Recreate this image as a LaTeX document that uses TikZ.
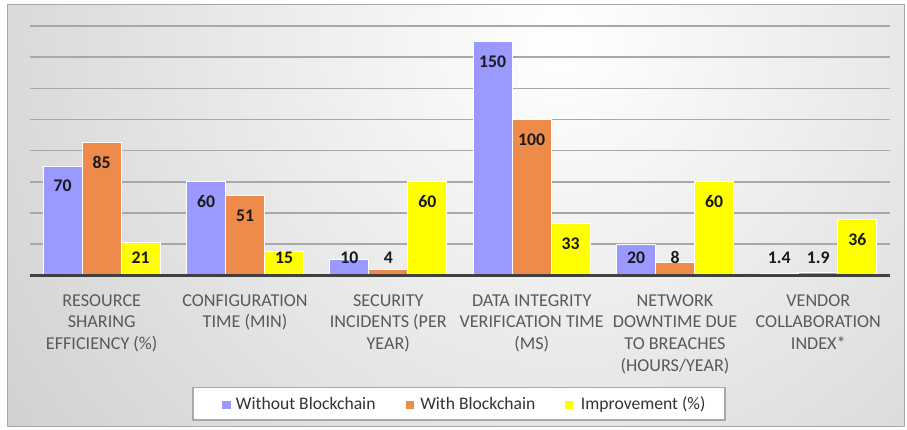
\documentclass[tikz,border=0pt]{standalone}
\usepackage{fontspec}
\setmainfont{Carlito}
\definecolor{nochain}{HTML}{9999FF}
\definecolor{withchain}{HTML}{EE8B4B}
\definecolor{improve}{HTML}{FFFF00}
\definecolor{bggray}{HTML}{C4C4C4}
\definecolor{gridgray}{HTML}{A8A8A8}
\definecolor{axisgray}{HTML}{404040}
\definecolor{catgray}{HTML}{595959}
\tikzset{
  bar/.style={draw=white, line width=0.75pt},
  val/.style={inner sep=0, font=\fontsize{13.3}{15}\selectfont\bfseries, text=black!90},
  cat/.style={anchor=north, inner sep=0, align=center, text=catgray, font=\fontsize{13.6}{16.3}\selectfont},
  gridline/.style={gridgray, line width=1.1pt},
  keybox/.style={inner sep=0, minimum size=6.2pt},
  keytext/.style={anchor=base west, inner sep=0, font=\fontsize{13.2}{15}\selectfont, text=black!80}
}
\begin{document}
\begin{tikzpicture}[x=0.75pt, y=-0.75pt]
	\useasboundingbox (0,0) rectangle (907,429);
	\fill[white] (0,0) rectangle (907,429);
	\begin{scope}
		\clip (7,4) rectangle (904,426);
		\shade[inner color=white, outer color=bggray] (560,40) circle (650pt);
	\end{scope}
	\draw[bggray!85!black, line width=0.6pt] (7,4) rectangle (904,426);
	
	% grid
	\draw[gridline] (30,244.1) -- (890,244.1);
	\draw[gridline] (30,213.0) -- (890,213.0);
	\draw[gridline] (30,181.8) -- (890,181.8);
	\draw[gridline] (30,150.6) -- (890,150.6);
	\draw[gridline] (30,119.5) -- (890,119.5);
	\draw[gridline] (30,88.3) -- (890,88.3);
	\draw[gridline] (30,57.1) -- (890,57.1);
	\draw[gridline] (30,26.0) -- (890,26.0);
	
	% bars
	\draw[bar, fill=nochain] (43.2,275.3) rectangle (82.2,166.2);
	\draw[bar, fill=withchain] (82.2,275.3) rectangle (121.2,142.9);
	\draw[bar, fill=improve] (121.2,275.3) rectangle (160.2,242.6);
	\draw[bar, fill=nochain] (186.5,275.3) rectangle (225.5,181.8);
	\draw[bar, fill=withchain] (225.5,275.3) rectangle (264.5,195.8);
	\draw[bar, fill=improve] (264.5,275.3) rectangle (303.5,251.9);
	\draw[bar, fill=nochain] (329.8,275.3) rectangle (368.8,259.7);
	\draw[bar, fill=withchain] (368.8,275.3) rectangle (407.8,269.1);
	\draw[bar, fill=improve] (407.8,275.3) rectangle (446.8,181.8);
	\draw[bar, fill=nochain] (473.2,275.3) rectangle (512.2,41.6);
	\draw[bar, fill=withchain] (512.2,275.3) rectangle (551.2,119.5);
	\draw[bar, fill=improve] (551.2,275.3) rectangle (590.2,223.9);
	\draw[bar, fill=nochain] (616.5,275.3) rectangle (655.5,244.1);
	\draw[bar, fill=withchain] (655.5,275.3) rectangle (694.5,262.8);
	\draw[bar, fill=improve] (694.5,275.3) rectangle (733.5,181.8);
	\draw[bar, fill=nochain] (759.8,275.3) rectangle (798.8,273.1);
	\draw[bar, fill=withchain] (798.8,275.3) rectangle (837.8,272.3);
	\draw[bar, fill=improve] (837.8,275.3) rectangle (876.8,219.2);
	
	% axis
	\draw[axisgray, line width=2.2pt] (30,275.3) -- (890,275.3);
	
	% values
	\node[val] (a1) at (62.7,186.2) {70};
	\node[val] (b1) at (101.7,162.9) {85};
	\node[val] (c1) at (140.7,257.3) {21};
	\node[val] (a2) at (206.0,201.8) {60};
	\node[val] (b2) at (245.0,215.8) {51};
	\node[val] (c2) at (284.0,257.3) {15};
	\node[val] (a3) at (349.3,257.3) {10};
	\node[val] (b3) at (388.3,257.3) {4};
	\node[val] (c3) at (427.3,201.8) {60};
	\node[val] (a4) at (492.7,61.6) {150};
	\node[val] (b4) at (531.7,139.5) {100};
	\node[val] (c4) at (570.7,243.9) {33};
	\node[val] (a5) at (636.0,257.3) {20};
	\node[val] (b5) at (675.0,257.3) {8};
	\node[val] (c5) at (714.0,201.8) {60};
	\node[val] (a6) at (779.3,257.3) {1.4};
	\node[val] (b6) at (818.3,257.3) {1.9};
	\node[val] (c6) at (857.3,239.2) {36};
	
	% categories
	\node[cat] (sharing) at (101.7,294.2) {RESOURCE\\SHARING\\EFFICIENCY (\%)};
	\node[cat] (config) at (245.0,294.2) {CONFIGURATION\\TIME (MIN)};
	\node[cat] (security) at (388.3,294.2) {SECURITY\\INCIDENTS (PER\\YEAR)};
	\node[cat] (integrity) at (531.7,294.2) {DATA INTEGRITY\\VERIFICATION TIME\\(MS)};
	\node[cat] (downtime) at (675.0,294.2) {NETWORK\\DOWNTIME DUE\\TO BREACHES\\(HOURS/YEAR)};
	\node[cat] (vendor) at (818.3,294.2) {VENDOR\\COLLABORATION\\INDEX*};
	
	% legend
	\node[draw=gridgray, fill=white, line width=1pt, inner sep=0, minimum width=399pt, minimum height=24.2pt] (legend) at (459,403.9) {};
	\node[keybox, fill=nochain] (k1) at (226.5,405) {};
	\node[keytext] (t1) at (235.7,409) {Without Blockchain};
	\node[keybox, fill=withchain] (k2) at (410,405) {};
	\node[keytext] (t2) at (420,409) {With Blockchain};
	\node[keybox, fill=improve] (k3) at (569.2,405) {};
	\node[keytext] (t3) at (580.7,409) {Improvement (\%)};
\end{tikzpicture}
\end{document}
